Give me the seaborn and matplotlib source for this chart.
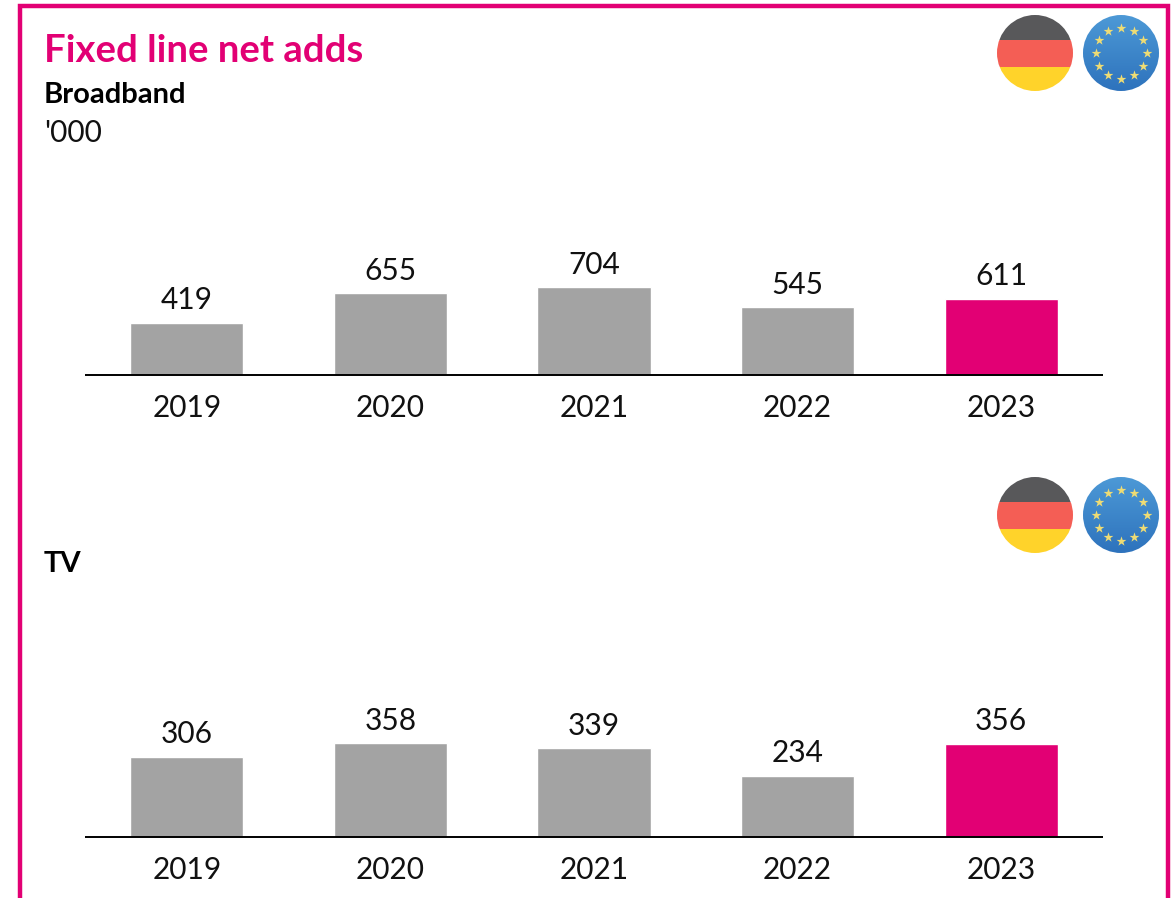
import numpy as np
import pandas as pd
import matplotlib.pyplot as plt
import seaborn as sns
from matplotlib.patches import Circle, Rectangle

years = ["2019", "2020", "2021", "2022", "2023"]
broadband = [419, 655, 704, 545, 611]
tv = [306, 358, 339, 234, 356]
bar_colors = ["#a3a3a3", "#a3a3a3", "#a3a3a3", "#a3a3a3", "#e20074"]

W, H = 1176, 898
MAGENTA = "#e20074"

sns.set_theme(style="white")
plt.rcParams['font.family'] = ['Lato', 'DejaVu Sans']

fig = plt.figure(figsize=(W / 100, H / 100), dpi=100)


def draw_bars(values, base_y, px_per_unit):
    # axes placed in pixels, top of axes 200px above the baseline
    ax = fig.add_axes([85 / W, 1 - base_y / H, 1018 / W, 200 / H])
    df = pd.DataFrame({"year": years, "value": values})
    sns.barplot(data=df, x="year", y="value", hue="year", palette=bar_colors,
                legend=False, width=0.556, ax=ax, saturation=1)
    ax.set_xlim(-0.5, 4.5)
    ax.set_ylim(0, 200 / px_per_unit)
    ax.set_xlabel("")
    ax.set_ylabel("")
    ax.set_yticks([])
    sns.despine(ax=ax, left=True)
    ax.spines["bottom"].set_color("black")
    ax.spines["bottom"].set_linewidth(1.4)
    ax.spines["bottom"].set_capstyle("butt")
    ax.tick_params(axis="x", length=0, pad=14, labelsize=21.5, labelcolor="#111111")
    for c in ax.containers:
        ax.bar_label(c, padding=6, fontsize=21.5, color="#111111")
    return ax


draw_bars(broadband, 375, 87.8 / 704)
draw_bars(tv, 837, 93.8 / 358)

# overlay in pixel coordinates for frame, flags and headings
ov = fig.add_axes([0, 0, 1, 1], zorder=5)
ov.set_xlim(0, W)
ov.set_ylim(H, 0)
ov.axis("off")
ov.patch.set_alpha(0)

ov.plot([20, 20, 1167.5, 1167.5], [H, 5.5, 5.5, H], color=MAGENTA, lw=3.2,
        solid_joinstyle="miter")

ov.text(44, 62, "Fixed line net adds", color=MAGENTA, fontsize=27.5, fontweight="bold",
        va="baseline")
ov.text(44, 103, "Broadband", color="black", fontsize=21, fontweight="bold", va="baseline")
ov.text(44, 142, "'000", color="#111111", fontsize=21.5, va="baseline")
ov.text(44, 572, "TV", color="black", fontsize=21, fontweight="bold", va="baseline")


def german_flag(cx, cy, r=38):
    clip = Circle((cx, cy), r, transform=ov.transData)
    bands = [("#58585a", -r, 25), ("#f45e55", -r + 25, 27), ("#ffd32a", -r + 52, 24)]
    for col, off, h in bands:
        rect = Rectangle((cx - r, cy + off), 2 * r, h, color=col, lw=0)
        ov.add_patch(rect)
        rect.set_clip_path(clip)


def eu_flag(cx, cy, r=38):
    grad = np.linspace(0, 1, 64).reshape(-1, 1)
    top, bot = np.array([0.30, 0.60, 0.84]), np.array([0.18, 0.45, 0.74])
    img = top + (bot - top) * grad[..., None]
    im = ov.imshow(img, extent=(cx - r, cx + r, cy + r, cy - r), aspect="auto", zorder=2)
    im.set_clip_path(Circle((cx, cy), r, transform=ov.transData))
    ang = np.deg2rad(np.arange(0, 360, 30))
    ov.scatter(cx + 25.5 * np.cos(ang), cy + 25.5 * np.sin(ang), marker="*", s=55,
               color="#efdc74", lw=0, zorder=3)


for y in (53, 515):
    german_flag(1035, y)
    eu_flag(1121, y)

ov.set_xlim(0, W)
ov.set_ylim(H, 0)

fig.savefig("out.png", dpi=100)
plt.close()
